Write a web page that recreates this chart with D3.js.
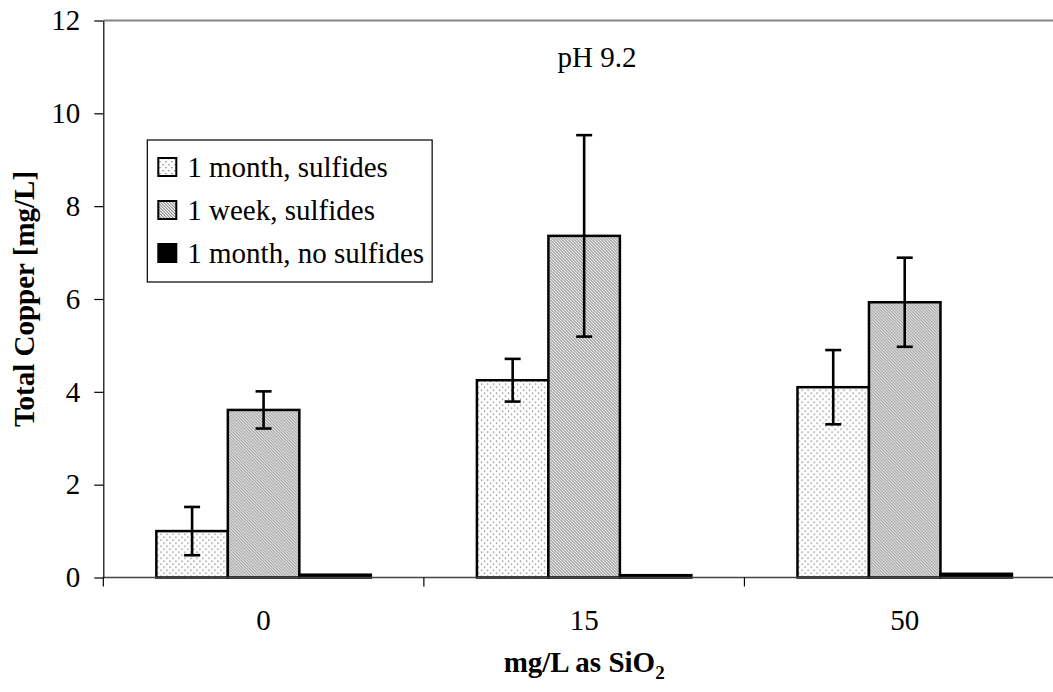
<!DOCTYPE html>
<html>
<head>
<meta charset="utf-8">
<script src="https://cdn.jsdelivr.net/npm/d3@7"></script>
<style>
body { margin: 0; background: #fff; overflow: hidden; }
svg { display: block; }
</style>
</head>
<body>
<svg width="1053" height="692"></svg>
<script>
// categories (mg/L as SiO2)
var categories = ["0", "15", "50"];
var seriesNames = ["1 month, sulfides", "1 week, sulfides", "1 month, no sulfides"];

// mean total copper, mg/L
var monthSulfides = [1.0, 4.25, 4.1];
var weekSulfides = [3.61, 7.36, 5.93];
var monthNoSulfides = [0.06, 0.05, 0.08];

// error bar half widths (null = no error bar)
var monthSulfidesErr = [0.52, 0.46, 0.8];
var weekSulfidesErr = [0.4, 2.17, 0.96];
var monthNoSulfidesErr = [null, null, null];

var yTicks = [0, 2, 4, 6, 8, 10, 12];

var FONT = "'Liberation Serif', 'Times New Roman', serif";

var svg = d3.select("svg"),
    margin = {top: 20.5, left: 103.3, right: -12, bottom: 114.5},
    width = +svg.attr("width") - margin.left - margin.right,
    height = +svg.attr("height") - margin.top - margin.bottom;

var defs = svg.append("defs");

// fine dots for 1 month sulfides
var dots = defs.append("pattern").attr("id", "dots")
    .attr("width", 6).attr("height", 6).attr("patternUnits", "userSpaceOnUse");
dots.append("rect").attr("width", 6).attr("height", 6).attr("fill", "#fff");
dots.append("rect").attr("x", 0).attr("y", 0).attr("width", 1.3).attr("height", 1.3).attr("fill", "#777");
dots.append("rect").attr("x", 3).attr("y", 3).attr("width", 1.3).attr("height", 1.3).attr("fill", "#777");

// dense diagonal hatch for 1 week sulfides
var hatch = defs.append("pattern").attr("id", "hatch")
    .attr("width", 3).attr("height", 3).attr("patternUnits", "userSpaceOnUse");
hatch.append("rect").attr("width", 3).attr("height", 3).attr("fill", "#ececec");
hatch.append("path").attr("d", "M-1,-1L4,4M2,-1L4,1M-1,2L1,4")
    .attr("stroke", "#555").attr("stroke-width", 0.8);

var fills = ["url(#dots)", "url(#hatch)", "#000"];

var data = categories.map(function(c, i) {
  return {
    cat: c,
    values: [
      {s: 0, v: monthSulfides[i], e: monthSulfidesErr[i]},
      {s: 1, v: weekSulfides[i], e: weekSulfidesErr[i]},
      {s: 2, v: monthNoSulfides[i], e: monthNoSulfidesErr[i]}
    ]
  };
});

var x0 = d3.scaleBand().domain(categories).range([0, width]);
var x1 = d3.scaleBand().domain([0, 1, 2]).range([0, x0.bandwidth()]).paddingOuter(0.742);
var y = d3.scaleLinear().domain([0, 12]).range([height, 0]);

var g = svg.append("g").attr("transform", "translate(" + margin.left + "," + margin.top + ")");

// top border of plot area
g.append("line")
    .attr("x1", 0).attr("x2", width)
    .attr("y1", y(12)).attr("y2", y(12))
    .attr("stroke", "#858585").attr("stroke-width", 2);

var groups = g.selectAll(".grp").data(data)
  .enter().append("g")
    .attr("class", "grp")
    .attr("transform", function(d) { return "translate(" + x0(d.cat) + ",0)"; });

groups.selectAll("rect").data(function(d) { return d.values; })
  .enter().append("rect")
    .attr("x", function(d) { return x1(d.s); })
    .attr("y", function(d) { return y(d.v); })
    .attr("width", x1.bandwidth())
    .attr("height", function(d) { return height - y(d.v); })
    .attr("fill", function(d) { return fills[d.s]; })
    .attr("stroke", "#000")
    .attr("stroke-width", 2.5);

// x axis line
g.append("line")
    .attr("x1", 0).attr("x2", width)
    .attr("y1", height).attr("y2", height)
    .attr("stroke", "#444").attr("stroke-width", 1.5);

// error bars
var errs = groups.selectAll(".err").data(function(d) { return d.values.filter(function(v) { return v.e != null; }); })
  .enter().append("g").attr("class", "err");
errs.append("line")
    .attr("x1", function(d) { return x1(d.s) + x1.bandwidth() / 2; })
    .attr("x2", function(d) { return x1(d.s) + x1.bandwidth() / 2; })
    .attr("y1", function(d) { return y(d.v + d.e); })
    .attr("y2", function(d) { return y(d.v - d.e); });
[1, -1].forEach(function(sign) {
  errs.append("line")
      .attr("x1", function(d) { return x1(d.s) + x1.bandwidth() / 2 - 8; })
      .attr("x2", function(d) { return x1(d.s) + x1.bandwidth() / 2 + 8; })
      .attr("y1", function(d) { return y(d.v + sign * d.e); })
      .attr("y2", function(d) { return y(d.v + sign * d.e); });
});
errs.selectAll("line").attr("stroke", "#000").attr("stroke-width", 2.6);

// y axis
var yAxis = g.append("g")
    .call(d3.axisLeft(y).tickValues(yTicks).tickSize(9).tickPadding(14).tickSizeOuter(0));
yAxis.attr("font-family", null).attr("font-size", null);
yAxis.select(".domain").attr("stroke", "#000").attr("stroke-width", 1.2);
yAxis.selectAll(".tick line").attr("stroke", "#000").attr("stroke-width", 1.2);
yAxis.selectAll("text").style("font-size", "29px").style("font-family", FONT).attr("fill", "#000");

// x axis ticks at category boundaries
var bounds = categories.map(function(c) { return x0(c); }).concat([width]);
g.selectAll(".xtick").data(bounds)
  .enter().append("line")
    .attr("x1", function(d) { return d; }).attr("x2", function(d) { return d; })
    .attr("y1", height).attr("y2", height + 9)
    .attr("stroke", "#000").attr("stroke-width", 1.2);

g.selectAll(".xlab").data(categories)
  .enter().append("text")
    .attr("x", function(d) { return x0(d) + x0.bandwidth() / 2; })
    .attr("y", height + 52)
    .attr("text-anchor", "middle")
    .style("font-family", FONT)
    .style("font-size", "29px")
    .text(function(d) { return d; });

// axis titles
svg.append("text")
    .attr("transform", "translate(34," + (margin.top + height / 2) + ") rotate(-90)")
    .attr("text-anchor", "middle")
    .style("font-family", FONT)
    .style("font-size", "29px").style("font-weight", "bold")
    .text("Total Copper [mg/L]");

var xt = svg.append("text")
    .attr("x", margin.left + width / 2)
    .attr("y", 672)
    .attr("text-anchor", "middle")
    .style("font-family", FONT)
    .style("font-size", "29px").style("font-weight", "bold");
xt.append("tspan").text("mg/L as SiO");
xt.append("tspan").attr("dy", 7).style("font-size", "19px").text("2");

svg.append("text")
    .attr("x", 597).attr("y", 67)
    .attr("text-anchor", "middle")
    .style("font-family", FONT)
    .style("font-size", "29px")
    .text("pH 9.2");

// legend
var legend = svg.append("g").attr("transform", "translate(147.3,140)");
var legBox = legend.append("rect")
    .attr("height", 142)
    .attr("fill", "#fff").attr("stroke", "#000").attr("stroke-width", 1.2);
var items = legend.selectAll(".item").data(seriesNames)
  .enter().append("g")
    .attr("class", "item")
    .attr("transform", function(d, i) { return "translate(0," + (27 + i * 43) + ")"; });
items.append("rect")
    .attr("x", 11).attr("y", -9).attr("width", 18).attr("height", 18)
    .attr("fill", function(d, i) { return fills[i]; })
    .attr("stroke", "#000").attr("stroke-width", 2);
items.append("text")
    .attr("x", 40).attr("y", 10)
    .style("font-family", FONT)
    .style("font-size", "29px")
    .text(function(d) { return d; });
var maxW = d3.max(items.selectAll("text").nodes(), function(n) { return n.getComputedTextLength(); });
legBox.attr("width", 40 + maxW + 8);
</script>
</body>
</html>
